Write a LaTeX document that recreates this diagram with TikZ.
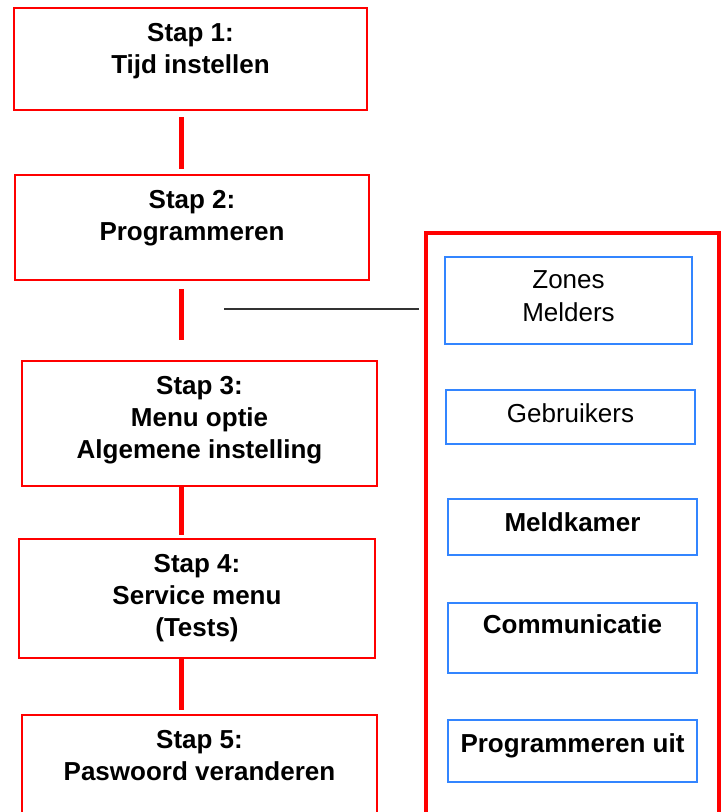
\documentclass[tikz,border=0pt]{standalone}
\usepackage{fontspec}
\setmainfont{Liberation Sans}
\usetikzlibrary{positioning,calc}

\definecolor{stapred}{RGB}{255,0,0}
\definecolor{optblue}{RGB}{51,133,255}
\newcommand\stapfont{\fontsize{26}{32}\selectfont\bfseries}
\newcommand\optfont{\fontsize{26}{33}\selectfont}

\tikzset{
  stapbox/.style={draw=stapred, line width=2pt, inner sep=0pt},
  optbox/.style={draw=optblue, line width=2.2pt, inner sep=0pt},
  btxt/.style={anchor=north, align=center, inner xsep=0pt, inner ysep=16pt, font=\stapfont},
  ptxt/.style={anchor=north, align=center, inner xsep=0pt, inner ysep=15pt, font=\optfont},
  link/.style={draw=stapred, line width=5pt},
  tapline/.style={draw=black!80, line width=2.6pt}
}

\begin{document}
\begin{tikzpicture}[x=1pt, y=-1pt]
\useasboundingbox (0,0) rectangle (725,812);
\clip (0,0) rectangle (725,812);
% stappen
\node[stapbox, minimum width=353pt, minimum height=102pt, label={[btxt]north:{Stap 1:\\Tijd instellen}}] (stap1) at (190.5,59) {};
\node[stapbox, minimum width=354pt, minimum height=105pt, label={[btxt]north:{Stap 2:\\Programmeren}}] (stap2) at (192,227.5) {};
\node[stapbox, minimum width=355pt, minimum height=125pt, label={[btxt]north:{Stap 3:\\Menu optie\\Algemene instelling}}] (stap3) at (199.5,423.5) {};
\node[stapbox, minimum width=356pt, minimum height=119pt, label={[btxt]north:{Stap 4:\\Service menu\\(Tests)}}] (stap4) at (197,598.5) {};
\node[stapbox, minimum width=355pt, minimum height=125pt, label={[btxt]north:{Stap 5:\\Paswoord veranderen}}] (stap5) at (199.5,777.5) {};
\coordinate (spine) at (181,0);
\draw[link, shorten <=6pt, shorten >=5pt] (stap1.south -| spine) -- (stap2.north -| spine);
\draw[link, shorten <=8pt, shorten >=20pt] (stap2.south -| spine) -- (stap3.north -| spine);
\draw[link, shorten >=3pt] (stap3.south -| spine) -- (stap4.north -| spine);
\draw[link, shorten >=4pt] (stap4.south -| spine) -- (stap5.north -| spine);
% programmeermenu
\node[draw=stapred, line width=4pt, minimum width=293pt, minimum height=617pt] (menu) at (572.5,541.5) {};
\node[optbox, minimum width=247pt, minimum height=87pt, label={[ptxt]north:{Zones\\Melders}}] (zones) at (568.5,300.5) {};
\node[optbox, minimum width=249pt, minimum height=54pt, label={[ptxt]north:Gebruikers}] (gebr) at (570.5,417) {};
\node[optbox, minimum width=249pt, minimum height=56pt, label={[btxt, inner ysep=15pt]north:Meldkamer}] (meldk) at (572.5,527) {};
\node[optbox, minimum width=249pt, minimum height=70pt, label={[btxt, inner ysep=13pt]north:Communicatie}] (comm) at (572.5,638) {};
\node[optbox, minimum width=249pt, minimum height=62pt, label={[btxt, inner ysep=15pt]north:Programmeren uit}] (uit) at (572.5,751) {};
\coordinate (tap) at (224,309);
\draw[tapline, shorten >=5pt] (tap) -- (tap -| menu.west);
\end{tikzpicture}
\end{document}
